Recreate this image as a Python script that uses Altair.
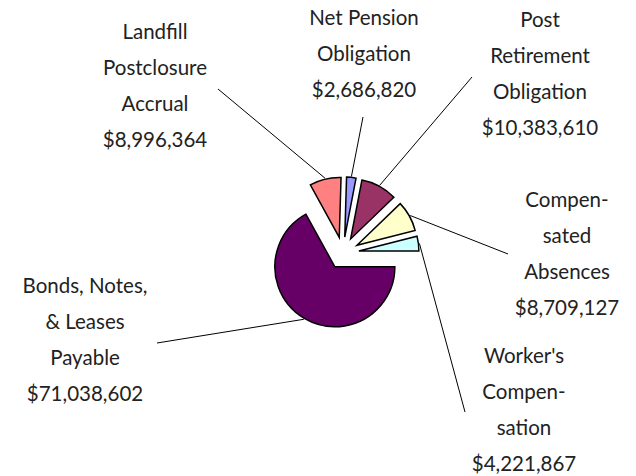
import math
import altair as alt
import pandas as pd

# ---- data ----
categories = [
    "Bonds, Notes, & Leases Payable",
    "Landfill Postclosure Accrual",
    "Net Pension Obligation",
    "Post Retirement Obligation",
    "Compensated Absences",
    "Worker's Compensation",
]
values = [71038602, 8996364, 2686820, 10383610, 8709127, 4221867]
label_text = [
    "Bonds, Notes,\n& Leases\nPayable",
    "Landfill\nPostclosure\nAccrual",
    "Net Pension\nObligation",
    "Post\nRetirement\nObligation",
    "Compen-\nsated\nAbsences",
    "Worker's\nCompen-\nsation",
]
colors = ["#660066", "#FF8080", "#9999FF", "#993366", "#FFFFCC", "#CCFFFF"]

# ---- layout (pixels in plot area) ----
CX, CY = 335, 245
R = 60
EXPLODE = 16
ATTACH = 61
label_x = [77, 147, 356, 532, 559, 516]
label_y = [279, 25, 11, 13, 193, 349]   # first-line centre
leader_x = [149, 210, 355, 464, 500, 457]
leader_y = [335, 81, 109, 69, 246, 404]

df = pd.DataFrame({
    "order": list(range(len(categories))),
    "category": categories,
    "value": values,
    "label": label_text,
    "lx": label_x,
    "ly": label_y,
    "sx": leader_x,
    "sy": leader_y,
})

base = alt.Chart(df).transform_joinaggregate(
    total="sum(value)"
).transform_window(
    cum="sum(value)", sort=[alt.SortField("order")], frame=[None, 0]
).transform_calculate(
    start="2*PI*(datum.cum - datum.value)/datum.total + PI/2",
    end="2*PI*datum.cum/datum.total + PI/2",
).transform_calculate(
    mid="(datum.start + datum.end)/2"
).transform_calculate(
    px=f"{CX} + {EXPLODE}*sin(datum.mid)",
    py=f"{CY} - {EXPLODE}*cos(datum.mid)",
).transform_calculate(
    ex=f"datum.px + {ATTACH}*sin(datum.mid)",
    ey=f"datum.py - {ATTACH}*cos(datum.mid)",
    txt="datum.label + '\\n$' + format(datum.value, ',')",
)

arcs = base.mark_arc(radius=R, stroke="black", strokeWidth=1.5).encode(
    theta=alt.Theta("start:Q", scale=None, stack=None),
    theta2="end:Q",
    x=alt.X("px:Q", scale=None),
    y=alt.Y("py:Q", scale=None),
    color=alt.Color("category:N", scale=alt.Scale(domain=categories, range=colors), legend=None),
)

leaders = base.mark_rule(color="black", strokeWidth=1).encode(
    x=alt.X("sx:Q", scale=None),
    y=alt.Y("sy:Q", scale=None),
    x2="ex:Q",
    y2="ey:Q",
)

labels = base.mark_text(
    font="Lato", fontSize=20.5, lineBreak="\n", lineHeight=36,
    align="center", baseline="middle", color="#222222",
).encode(
    x=alt.X("lx:Q", scale=None),
    y=alt.Y("ly:Q", scale=None),
    text="txt:N",
)

chart = alt.layer(leaders, arcs, labels).properties(
    width=620, height=466, padding=0,
    autosize=alt.AutoSizeParams(type="none"),
).configure_view(stroke=None)

chart.save("out.html", embed_options={"renderer": "svg", "actions": False})
